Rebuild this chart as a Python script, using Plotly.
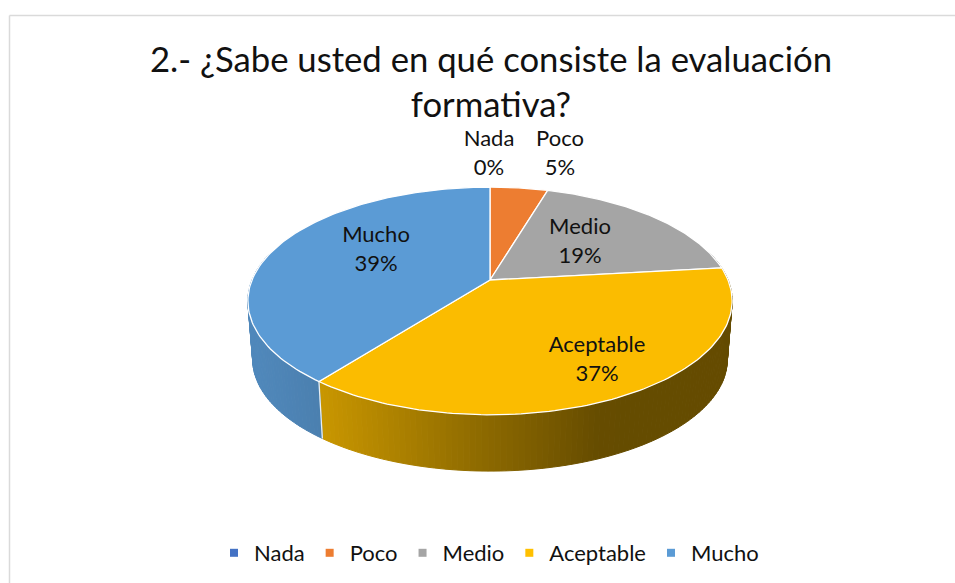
import numpy as np
import plotly.graph_objects as go

categories = ["Nada", "Poco", "Medio", "Aceptable", "Mucho"]
values = [0.0, 4.6, 18.6, 37.3, 39.45]
colors = ["#4472C4", "#ED7D31", "#A5A5A5", "#FBBC00", "#5B9BD5"]
title_lines = ["2.- ¿Sabe usted en qué consiste la evaluación", "formativa?"]

# Projection of the tilted pie onto the page (pixels)
CX, CY, A, B, K = 490.0, 280.0, 238.0, 110.0, 0.184
DEPTH, SHRINK = 59.0, 0.98
LABEL_POS = {"Nada": (489, 155), "Poco": (560, 155), "Medio": (580, 243),
             "Aceptable": (597, 361), "Mucho": (376, 251)}
FONT = "Lato"
TEXT = "#111111"
W, H = 955, 583


def project(theta, r=1.0):
    u, v = r * np.sin(theta), r * np.cos(theta)
    w = 1 + K * v
    return CX + A * u / w, CY - B * v / w


def lower(x, y):
    return CX + SHRINK * (x - CX), CY + SHRINK * (y - CY) + DEPTH


def shade(hex_color, f):
    c = [int(hex_color[i:i + 2], 16) for i in (1, 3, 5)]
    return "rgb(%d,%d,%d)" % tuple(int(round(v * f)) for v in c)


def side_factor(name, x):
    if name == "Mucho":
        return float(np.interp(x, [250, 320], [0.88, 0.82]))
    return float(np.interp(x, [320, 490, 600, 735], [0.80, 0.55, 0.405, 0.40]))


fig = go.Figure()
total = sum(values)
edges = np.cumsum([0.0] + values) / total * 2 * np.pi

# Side walls
for i, name in enumerate(categories):
    if values[i] <= 0:
        continue
    n = max(2, int((edges[i + 1] - edges[i]) / np.radians(1.2)))
    ts = np.linspace(edges[i], edges[i + 1], n + 1)
    for t0, t1 in zip(ts[:-1], ts[1:]):
        if np.cos((t0 + t1) / 2) > 0.25:
            continue
        x0, y0 = project(t0)
        x1, y1 = project(t1)
        x2, y2 = lower(x1, y1)
        x3, y3 = lower(x0, y0)
        col = shade(colors[i], side_factor(name, (x0 + x1) / 2))
        fig.add_trace(go.Scatter(
            x=[x0, x1, x2, x3, x0], y=[y0, y1, y2, y3, y0], mode="lines",
            fill="toself", fillcolor=col, line=dict(color=col, width=1),
            showlegend=False, hoverinfo="skip"))

# Seam between the two visible walls
seam = edges[4]
sx, sy = project(seam)
lx, ly = lower(sx, sy)
fig.add_trace(go.Scatter(x=[sx, lx], y=[sy, ly], mode="lines",
                         line=dict(color="#E8EEF3", width=1.3),
                         showlegend=False, hoverinfo="skip"))

# Top faces
for i, name in enumerate(categories):
    if values[i] <= 0:
        continue
    ts = np.linspace(edges[i], edges[i + 1], 120)
    px, py = project(ts)
    xs = [CX] + list(px) + [CX]
    ys = [CY] + list(py) + [CY]
    fig.add_trace(go.Scatter(
        x=xs, y=ys, mode="lines", fill="toself", fillcolor=colors[i],
        line=dict(color="#FFFFFF", width=1.3),
        showlegend=False, hoverinfo="skip"))

# Data labels
pct = [int(round(v / total * 100)) for v in values]
fig.add_trace(go.Scatter(
    x=[LABEL_POS[c][0] for c in categories],
    y=[LABEL_POS[c][1] for c in categories],
    mode="text",
    text=[f"{c}<br>{p}%" for c, p in zip(categories, pct)],
    textposition="middle center",
    textfont=dict(family=FONT, size=22, color=TEXT),
    showlegend=False, hoverinfo="skip"))

# Legend entries
for c, col in zip(categories, colors):
    fig.add_trace(go.Scatter(
        x=[None], y=[None], mode="markers", name=c,
        marker=dict(symbol="square", size=8, color="#FFC000" if c == "Aceptable" else col)))

fig.update_layout(
    width=W, height=H, autosize=False,
    margin=dict(l=0, r=0, t=0, b=0),
    paper_bgcolor="#FFFFFF", plot_bgcolor="#FFFFFF",
    xaxis=dict(range=[0, W], visible=False, fixedrange=True),
    yaxis=dict(range=[H, 0], visible=False, fixedrange=True),
    title=dict(text="<br>".join(title_lines), x=491 / W, xanchor="center",
               y=1 - 72 / H, yanchor="middle",
               font=dict(family=FONT, size=34.7, color=TEXT)),
    legend=dict(orientation="h", x=489 / W, xanchor="center",
                y=1 - 553 / H, yanchor="middle",
                font=dict(family=FONT, size=22, color=TEXT),
                itemsizing="trace", bgcolor="rgba(0,0,0,0)"),
    shapes=[dict(type="line", xref="x", yref="y", x0=9.5, x1=9.5, y0=15.5, y1=H,
                 line=dict(color="#DADADA", width=1.5)),
            dict(type="line", xref="x", yref="y", x0=9.5, x1=W, y0=15.5, y1=15.5,
                 line=dict(color="#DADADA", width=1.5))],
)
fig.write_html(
    "out.html",
    config={"displayModeBar": False},
    post_script="document.body.style.margin='0';"
                "document.documentElement.style.overflow='hidden';",
)
